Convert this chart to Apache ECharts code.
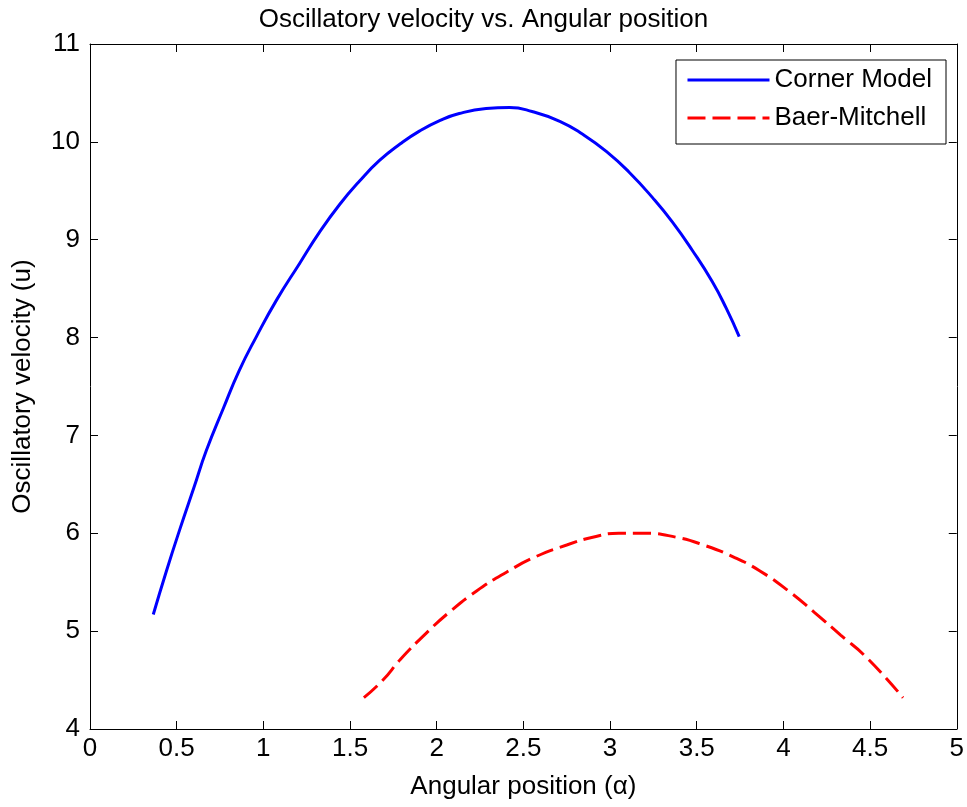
<!DOCTYPE html>
<html>
<head>
<meta charset="utf-8">
<script src="https://cdn.jsdelivr.net/npm/echarts@6/dist/echarts.min.js"></script>
<style>
  html, body { margin: 0; padding: 0; background: #fff; }
  #chart { width: 967px; height: 807px; }
</style>
</head>
<body>
<div id="chart"></div>
<script>
// Corner Model curve (alpha, u)
const cornerX = [0.365, 0.44, 0.52, 0.60, 0.67, 0.77, 0.86, 0.96, 1.075, 1.21, 1.325, 1.44, 1.555, 1.67, 1.79, 1.90, 2.02, 2.13, 2.285, 2.42, 2.55, 2.71, 2.84, 2.98, 3.11, 3.245, 3.36, 3.475, 3.59, 3.67, 3.745];
const cornerY = [5.17, 5.61, 6.05, 6.47, 6.84, 7.28, 7.66, 8.01, 8.38, 8.76, 9.08, 9.36, 9.60, 9.81, 9.98, 10.11, 10.22, 10.29, 10.34, 10.35, 10.31, 10.21, 10.08, 9.90, 9.69, 9.43, 9.18, 8.89, 8.57, 8.30, 8.01];

// Baer-Mitchell curve
const baerX = [1.58, 1.69, 1.79, 1.94, 2.07, 2.23, 2.40, 2.57, 2.75, 2.90, 3.05, 3.20, 3.38, 3.54, 3.71, 3.86, 4.03, 4.18, 4.33, 4.48, 4.69];
const baerY = [4.32, 4.50, 4.71, 4.98, 5.19, 5.41, 5.60, 5.76, 5.88, 5.96, 6.00, 6.00, 5.96, 5.88, 5.76, 5.62, 5.41, 5.19, 4.96, 4.73, 4.32];

const seriesNames = ['Corner Model', 'Baer-Mitchell'];

const font = 'Liberation Sans, Arial, sans-serif';
const fs = 26;
const chart = echarts.init(document.getElementById('chart'));

function pairs(xs, ys) {
  return xs.map((x, i) => [x, ys[i]]);
}

const axisCommon = {
  axisLine: { show: true, onZero: false, lineStyle: { color: '#000', width: 1 } },
  axisTick: { show: true, inside: true, length: 8, lineStyle: { color: '#000' } },
  splitLine: { show: false }
};

chart.setOption({
  animation: false,
  backgroundColor: '#fff',
  title: {
    text: 'Oscillatory velocity vs. Angular position',
    left: 'center',
    top: 2,
    textStyle: { fontFamily: font, fontSize: fs, fontWeight: 'normal', color: '#000' }
  },
  legend: {
    orient: 'vertical',
    right: 21,
    top: 60,
    padding: [7, 14, 13, 10],
    itemWidth: 82,
    itemHeight: 14,
    itemGap: 12,
    backgroundColor: '#fff',
    borderColor: '#000',
    borderWidth: 1,
    itemStyle: { opacity: 0 },
    lineStyle: { width: 3 },
    textStyle: { fontFamily: font, fontSize: fs, color: '#000' },
    data: seriesNames
  },
  grid: { left: 90, right: 9, top: 44, bottom: 78 },
  xAxis: [
    Object.assign({}, axisCommon, {
      type: 'value', min: 0, max: 5, interval: 0.5,
      name: 'Angular position (\u03b1)',
      nameLocation: 'middle', nameGap: 45,
      nameTextStyle: { fontFamily: font, fontSize: fs, color: '#000' },
      axisLabel: { fontFamily: font, fontSize: fs, color: '#000', margin: 7 }
    }),
    Object.assign({}, axisCommon, {
      type: 'value', position: 'top', min: 0, max: 5, interval: 0.5,
      axisLabel: { show: false }
    })
  ],
  yAxis: [
    Object.assign({}, axisCommon, {
      type: 'value', min: 4, max: 11, interval: 1,
      name: 'Oscillatory velocity (u)',
      nameLocation: 'middle', nameGap: 54,
      nameTextStyle: { fontFamily: font, fontSize: fs, color: '#000' },
      axisLabel: { fontFamily: font, fontSize: fs, color: '#000', margin: 10 }
    }),
    Object.assign({}, axisCommon, {
      type: 'value', position: 'right', min: 4, max: 11, interval: 1,
      axisLabel: { show: false }
    })
  ],
  series: [
    {
      name: seriesNames[0],
      type: 'line',
      smooth: 0.5,
      symbol: 'none',
      data: pairs(cornerX, cornerY),
      lineStyle: { color: '#0000ff', width: 3 },
      itemStyle: { color: '#0000ff' }
    },
    {
      name: seriesNames[1],
      type: 'line',
      smooth: 0.5,
      symbol: 'none',
      data: pairs(baerX, baerY),
      lineStyle: { color: '#ff0000', width: 3, type: [18, 7] },
      itemStyle: { color: '#ff0000' }
    }
  ]
});
</script>
</body>
</html>
